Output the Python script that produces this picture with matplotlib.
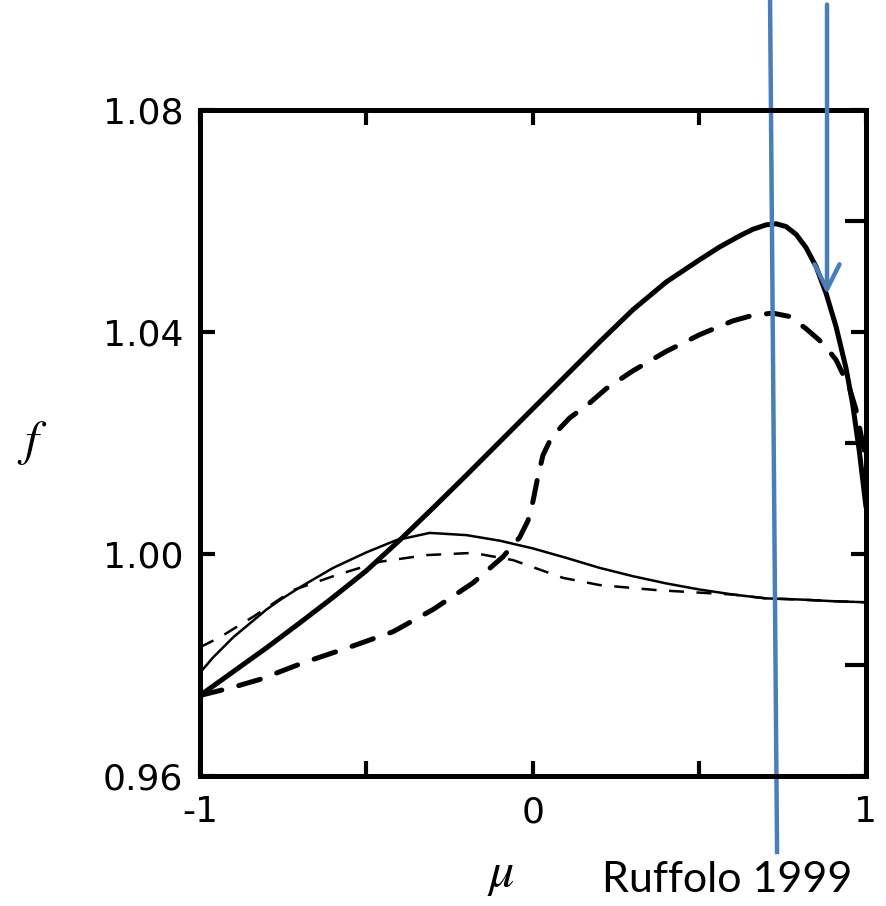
import matplotlib
matplotlib.use("Agg")
import matplotlib.pyplot as plt

plt.rcParams['mathtext.fontset'] = 'stix'
plt.rcParams['font.family'] = 'DejaVu Sans'

# thick solid curve
mu_thick = [-1.00, -0.90, -0.80, -0.70, -0.60, -0.50, -0.40, -0.30, -0.20, -0.10,
            0.00, 0.10, 0.20, 0.30, 0.40, 0.50, 0.56, 0.62, 0.66, 0.70, 0.73, 0.76,
            0.79, 0.82, 0.85, 0.88, 0.91, 0.94, 0.96, 0.98, 1.00]
f_thick = [0.9745, 0.9788, 0.9831, 0.9876, 0.9922, 0.9970, 1.0025, 1.0083, 1.0142, 1.0202,
           1.0262, 1.0322, 1.0382, 1.0440, 1.0490, 1.0530, 1.0553, 1.0573, 1.0585, 1.0593, 1.0595, 1.0590,
           1.0576, 1.0552, 1.0518, 1.0470, 1.0410, 1.0335, 1.0270, 1.0185, 1.0085]

# thick dashed curve
mu_thick_d = [-1.00, -0.90, -0.82, -0.69, -0.556, -0.42, -0.30, -0.18, -0.09, -0.04,
              -0.015, 0.00, 0.015, 0.03, 0.05, 0.08, 0.11, 0.17, 0.22, 0.30, 0.40, 0.50,
              0.60, 0.66, 0.72, 0.77, 0.82, 0.87, 0.91, 0.95, 0.97, 1.00]
f_thick_d = [0.9745, 0.9760, 0.9774, 0.9804, 0.9831, 0.9860, 0.9900, 0.9948, 0.9995, 1.0030,
             1.0060, 1.0095, 1.0140, 1.0178, 1.0203, 1.0226, 1.0245, 1.0272, 1.0298, 1.0330, 1.0365, 1.0395,
             1.0420, 1.0430, 1.0434, 1.0428, 1.0406, 1.0380, 1.0350, 1.0300, 1.0260, 1.0170]

# thin solid curve
mu_thin = [-1.00, -0.96, -0.90, -0.80, -0.76, -0.70, -0.60, -0.50, -0.41, -0.31,
           -0.20, -0.10, 0.00, 0.10, 0.20, 0.30, 0.40, 0.50, 0.60, 0.70, 0.80, 0.90, 1.00]
f_thin = [0.9786, 0.9814, 0.9850, 0.9900, 0.9917, 0.9940, 0.9975, 1.0003, 1.0025, 1.0038,
          1.0034, 1.0024, 1.0010, 0.9993, 0.9975, 0.9960, 0.9947, 0.9936, 0.9927, 0.9920, 0.9918, 0.9915, 0.9913]

# thin dashed curve
mu_thin_d = [-1.00, -0.94, -0.84, -0.72, -0.59, -0.46, -0.32, -0.18, -0.06, 0.09,
             0.20, 0.37, 0.51, 0.60, 0.70, 0.80, 0.90, 1.00]
f_thin_d = [0.9832, 0.9850, 0.9887, 0.9935, 0.9962, 0.9986, 0.9998, 1.0002, 0.9989, 0.9957,
            0.9944, 0.9935, 0.9930, 0.9927, 0.9920, 0.9918, 0.9915, 0.9913]

yticks = [0.96, 1.00, 1.04, 1.08]
yticks_minor = [0.98, 1.02, 1.06]
ytick_labels = ['0.96', '1.00', '1.04', '1.08']
xticks = [-1, 0, 1]
xticks_minor = [-0.5, 0.5]
xtick_labels = ['-1', '0', '1']

blue = '#4a7ebb'

fig = plt.figure(figsize=(8.86, 9.06), dpi=100)
ax = fig.add_axes([0.2257, 0.1435, 0.7517, 0.7351])

ax.plot(mu_thick, f_thick, color='black', lw=3.6, solid_capstyle='round', solid_joinstyle='round')
ax.plot(mu_thick_d, f_thick_d, color='black', lw=3.6, dashes=(4.5, 3.5), dash_capstyle='round')
ax.plot(mu_thin, f_thin, color='black', lw=1.8)
ax.plot(mu_thin_d, f_thin_d, color='black', lw=1.8, dashes=(6, 5))

ax.set_xlim(-1, 1)
ax.set_ylim(0.96, 1.08)

ax.set_xticks(xticks)
ax.set_xticklabels(xtick_labels)
ax.set_xticks(xticks_minor, minor=True)
ax.set_yticks(yticks)
ax.set_yticklabels(ytick_labels)
ax.set_yticks(yticks_minor, minor=True)

for s in ax.spines.values():
    s.set_linewidth(3.6)

ax.tick_params(which='major', direction='in', length=11, width=3, top=True, right=True,
               labelsize=26, pad=12)
ax.tick_params(axis='x', which='major', pad=14)
ax.tick_params(which='minor', direction='in', length=11, width=3, top=True, right=True,
               left=False)
ax.tick_params(axis='y', which='minor', left=False, right=True, length=15)

ax.set_ylabel('$f$', fontsize=36, rotation=0, va='center', ha='center')
ax.yaxis.set_label_coords(-0.252, 0.5)

fig.text(0.565, 0.022, r'$\mu$', fontsize=36, ha='center', va='baseline')
fig.text(0.680, 0.015, 'Ruffolo 1999', fontsize=31, ha='left', va='baseline',
         family='Lato')

# blue annotation lines
ax.plot([0.712, 0.733], [1.0995, 0.9463], color=blue, lw=3.2, clip_on=False)
ax.annotate('', xy=(0.883, 1.0463), xytext=(0.883, 1.0995),
            arrowprops=dict(arrowstyle='->', color=blue, lw=3.2, mutation_scale=45),
            annotation_clip=False)

fig.savefig('out.png', dpi=100)
